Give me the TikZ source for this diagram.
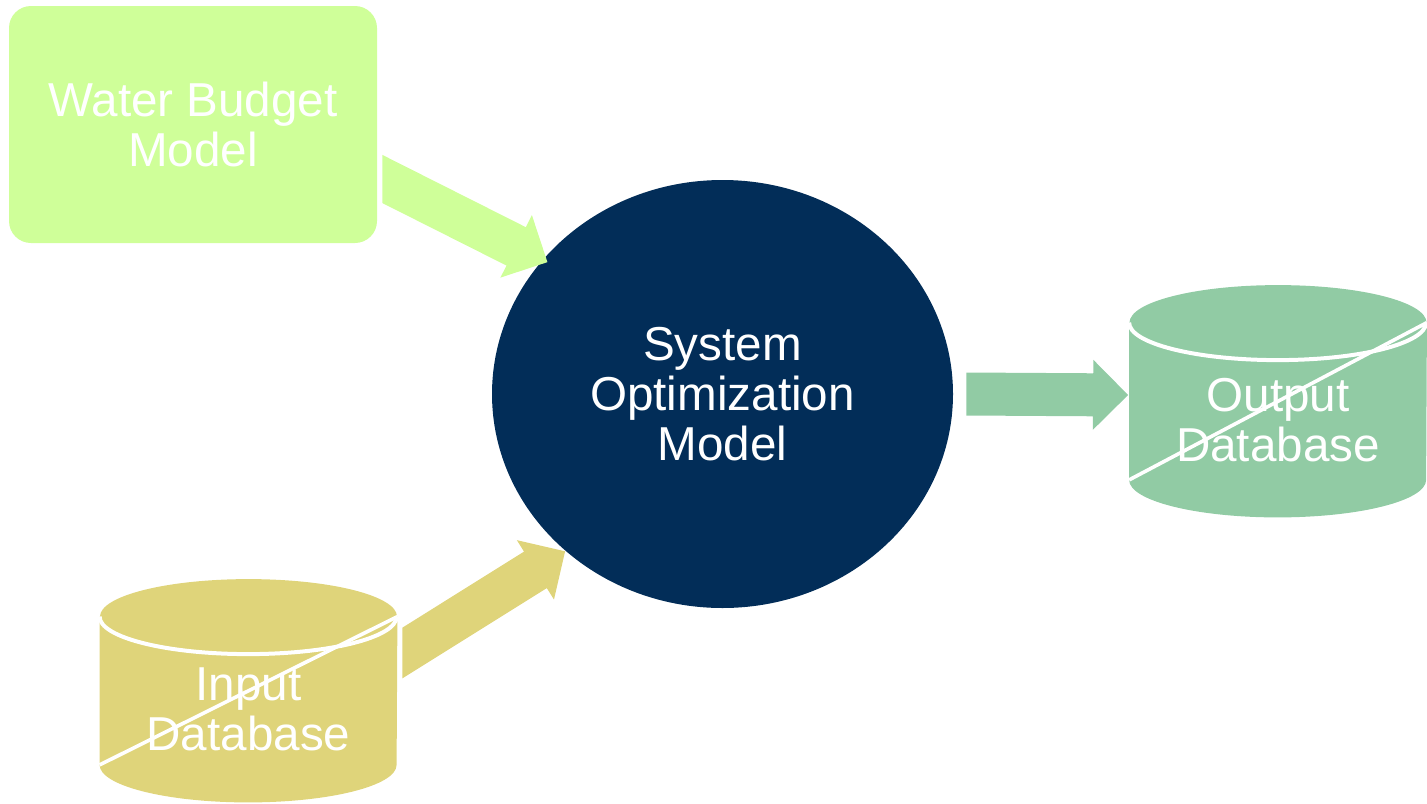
\documentclass[tikz,border=0pt]{standalone}
\usepackage{fontspec}
\setmainfont{Liberation Sans}
\usetikzlibrary{calc,backgrounds,shapes.geometric}

\definecolor{budgetgreen}{HTML}{CFFF99}
\definecolor{optnavy}{HTML}{022D58}
\definecolor{inyellow}{HTML}{DFD47A}
\definecolor{outgreen}{HTML}{91CBA4}

% block arrow with a vertical tail: colour, from, to
\newcommand{\flowarrow}[3]{%
  \fill[#1] let \p1=($(#3)-(#2)$), \n1={atan2(\y1,\x1)}, \n2={veclen(\x1,\y1)} in
    [shift={(#2)}, rotate=\n1]
    ({10.75pt*tan(\n1)}, 10.75pt) -- ({\n2-17.5pt}, 10.75pt) -- ({\n2-17.5pt}, 17.5pt)
    -- (\n2, 0pt) -- ({\n2-17.5pt}, -17.5pt) -- ({\n2-17.5pt}, -10.75pt)
    -- ({-10.75pt*tan(\n1)}, -10.75pt) -- cycle;}

% database drum behind a node: node, colour
\newcommand{\dbshape}[2]{%
  \fill[#2] (#1.north west) -- ([yshift=18.75pt]#1.south west)
    arc[start angle=180, end angle=360, x radius=74.25pt, y radius=18.75pt]
    -- (#1.north east) -- cycle;
  \fill[#2] (#1.north) ellipse[x radius=74.25pt, y radius=18.75pt];
  \draw[white, line width=2pt] (#1.north west)
    arc[start angle=180, end angle=360, x radius=74.25pt, y radius=18.75pt];
  \draw[white, line width=1.8pt] ([yshift=18.75pt]#1.south west) -- (#1.north east);}

\begin{document}
\begin{tikzpicture}[x=0.5pt, y=-0.5pt,
    every node/.style={font=\fontsize{23.8pt}{25pt}\selectfont, text=white, align=center, inner sep=0pt},
    modelbox/.style={rectangle, rounded corners=11pt, fill=budgetgreen, minimum width=184pt, minimum height=118.5pt},
    optim/.style={ellipse, fill=optnavy, minimum width=230.5pt, minimum height=214pt},
    dbcyl/.style={rectangle, minimum width=148.5pt}]
  \useasboundingbox (0,0) rectangle (1427,803);

  % Models
  \node[modelbox] (wbm) at (193,124.5) {Water Budget\\Model};
  \node[optim] (som) at (722.5,394) {System\\Optimization\\Model};

  % Databases
  \node[dbcyl, minimum height=92.5pt] (indb) at (248.5,709.5) {Input\\Database};
  \node[dbcyl, minimum height=97pt] (outdb) at (1278,420) {Output\\Database};
  \begin{scope}[on background layer]
    \dbshape{indb}{inyellow}
    \dbshape{outdb}{outgreen}
  \end{scope}

  % Flows
  \coordinate (wbm-out) at ([xshift=2.5pt, yshift=-27.25pt]wbm.east);
  \coordinate (indb-out) at ([xshift=2.5pt, yshift=28.25pt]indb.east);
  \coordinate (som-out) at ([xshift=6.5pt]som.east);
  \coordinate (outdb-in) at ([xshift=-0.5pt, yshift=12.5pt]outdb.west);
  \coordinate (som-in1) at ($(som.center)!0.975!(som.143)$);
  \flowarrow{budgetgreen}{wbm-out}{som-in1}
  \flowarrow{inyellow}{indb-out}{som.225}
  \flowarrow{outgreen}{som-out}{outdb-in}
\end{tikzpicture}
\end{document}
